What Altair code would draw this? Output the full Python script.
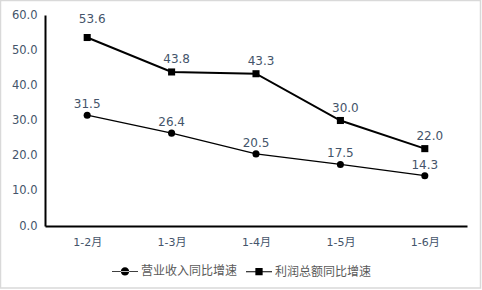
import altair as alt
import pandas as pd

categories = ["1-2月", "1-3月", "1-4月", "1-5月", "1-6月"]
revenue = [31.5, 26.4, 20.5, 17.5, 14.3]
profit = [53.6, 43.8, 43.3, 30.0, 22.0]
series_names = ["营业收入同比增速", "利润总额同比增速"]
y_ticks = [0, 10, 20, 30, 40, 50, 60]

rows = []
for c, v in zip(categories, revenue):
    rows.append({"cat": c, "val": v, "series": series_names[0]})
for c, v in zip(categories, profit):
    rows.append({"cat": c, "val": v, "series": series_names[1]})
df = pd.DataFrame(rows)

FONT = "Noto Sans CJK SC"
AXFONT = "DejaVu Sans, Noto Sans CJK SC"
LABEL_COLOR = "#44546A"

x_enc = alt.X("cat:N", sort=categories, title=None,
              scale=alt.Scale(paddingInner=0, paddingOuter=0),
              axis=alt.Axis(labelAngle=0, ticks=False, domainColor="black",
                            domainWidth=2, labelPadding=10, labelFontSize=11,
                            labelColor=LABEL_COLOR, labelFont=AXFONT, grid=False))
y_enc = alt.Y("val:Q", title=None,
              scale=alt.Scale(domain=[0, 60], nice=False),
              axis=alt.Axis(values=y_ticks, format=".1f", ticks=False, grid=False,
                            domainColor="black", domainWidth=2, labelPadding=8,
                            labelFontSize=11.5, labelColor=LABEL_COLOR, labelFont=AXFONT))

base = alt.Chart(df)

lines = base.mark_line(color="black").encode(
    x=x_enc, y=y_enc, detail="series:N",
    strokeWidth=alt.StrokeWidth("series:N",
                                scale=alt.Scale(domain=series_names, range=[1.3, 2]),
                                legend=None),
)

points = base.mark_point(filled=True, color="black", opacity=1, size=50).encode(
    x=x_enc, y=y_enc,
    shape=alt.Shape("series:N",
                    scale=alt.Scale(domain=series_names, range=["circle", "square"]),
                    legend=None),
)

legend_paths = [
    "M-1,-0.03H1V0.03H-1Z M-0.32,0A0.32,0.32 0 1,0 0.32,0A0.32,0.32 0 1,0 -0.32,0Z",
    "M-1,-0.04H1V0.04H-1Z M-0.28,-0.28H0.28V0.28H-0.28Z",
]
legend_layer = base.mark_point(filled=True, color="black", opacity=0).encode(
    x=x_enc, y=y_enc,
    shape=alt.Shape("series:N",
                    scale=alt.Scale(domain=series_names, range=legend_paths),
                    legend=alt.Legend(title=None, orient="none", direction="horizontal",
                                      legendX=66, legendY=242, symbolSize=676,
                                      symbolOpacity=1, symbolFillColor="black",
                                      labelFont=FONT, labelFontSize=12,
                                      labelColor="#595959", columnPadding=5,
                                      labelOffset=2)),
)

rev_labels = base.transform_filter(alt.datum.series == series_names[0]).mark_text(
    dy=-11, fontSize=12, font="DejaVu Sans", color=LABEL_COLOR
).encode(x=x_enc, y=y_enc, text=alt.Text("val:Q", format=".1f"))

prof_labels = base.transform_filter(
    (alt.datum.series == series_names[1]) & (alt.datum.cat != categories[0])
).mark_text(dy=-13, dx=5, fontSize=12, font="DejaVu Sans", color=LABEL_COLOR).encode(
    x=x_enc, y=y_enc, text=alt.Text("val:Q", format=".1f"))

first_label = base.transform_filter(
    (alt.datum.series == series_names[1]) & (alt.datum.cat == categories[0])
).mark_text(dy=-19, dx=5, fontSize=12, font="DejaVu Sans", color=LABEL_COLOR).encode(
    x=x_enc, y=y_enc, text=alt.Text("val:Q", format=".1f"))

border = alt.Chart(pd.DataFrame({"a": [0]})).mark_rect(
    fill=None, stroke="#d9d9d9", strokeWidth=1.5
).encode(x=alt.value(-44.5), x2=alt.value(435.5), y=alt.value(-14.5), y2=alt.value(273))

chart = alt.layer(border, lines, points, legend_layer, rev_labels, prof_labels, first_label).resolve_scale(
    shape="independent"
).properties(
    width=422, height=211,
    padding={"left": 45, "top": 15, "right": 15, "bottom": 64},
    autosize=alt.AutoSizeParams(type="none"),
    background="white",
).configure_view(stroke=None)

chart.save("out.html", embed_options={"renderer": "svg", "actions": False})
